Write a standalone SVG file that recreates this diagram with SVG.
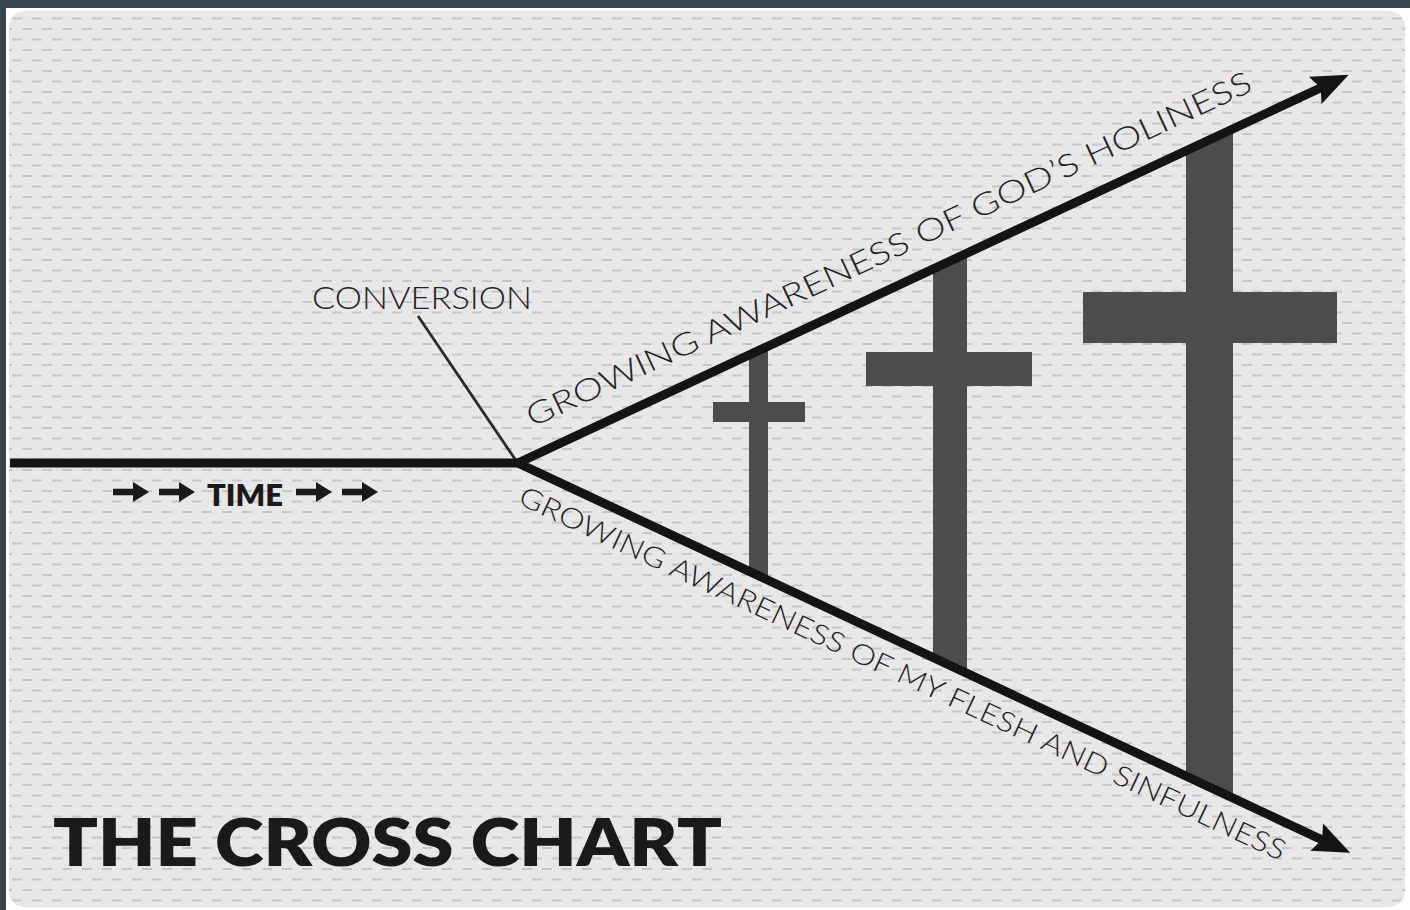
<svg xmlns="http://www.w3.org/2000/svg" width="1410" height="910" viewBox="0 0 1410 910">
  <defs>
    <pattern id="tex" x="0" y="3" width="20" height="21" patternUnits="userSpaceOnUse">
      <rect x="0" y="0" width="20" height="21" fill="#e7e7e7"/>
      <rect x="2" y="4" width="10" height="2" fill="#c6c6c6"/>
      <rect x="12" y="14.5" width="10" height="2" fill="#c6c6c6"/>
      <rect x="-8" y="14.5" width="10" height="2" fill="#c6c6c6"/>
    </pattern>
    <clipPath id="wedge">
      <polygon points="518,463 1400,51 1400,876"/>
    </clipPath>
    <path id="tarrow" d="M0,-3.2 H20 V-10 L36,0 L20,10 V3.2 H0 Z"/>
  </defs>
  <style>
    .cross { fill: #4d4d4d; }
    .ln { stroke: #141414; fill: none; stroke-width: 9; }
    .head { fill: #141414; }
    .light { font-family: Lato, "Noto Sans", "Liberation Sans", sans-serif; font-weight: 300; fill: #222; }
    .bold { font-family: Lato, "Liberation Sans", sans-serif; font-weight: 800; fill: #1a1a1a; }
  </style>

  <!-- frame -->
  <rect x="0" y="0" width="1410" height="910" fill="#ffffff"/>
  <rect x="0" y="0" width="1410" height="8" fill="#36464f"/>
  <rect x="0" y="0" width="6" height="910" fill="#36464f"/>
  <rect x="9" y="11" width="1396" height="896" rx="16" fill="url(#tex)"/>

  <!-- crosses -->
  <g id="crosses" clip-path="url(#wedge)">
    <g id="cross1">
      <rect class="cross" x="749" y="300" width="19" height="320"/>
      <rect class="cross" x="713" y="402" width="92" height="20"/>
    </g>
    <g id="cross2">
      <rect class="cross" x="933" y="200" width="34" height="500"/>
      <rect class="cross" x="866" y="352" width="166" height="34"/>
    </g>
    <g id="cross3">
      <rect class="cross" x="1186" y="80" width="47" height="760"/>
      <rect class="cross" x="1083" y="292" width="254" height="51"/>
    </g>
  </g>

  <!-- connectors -->
  <g id="connectors">
    <line x1="418" y1="316" x2="517" y2="462" stroke="#2a2a2a" stroke-width="2.8"/>
    <line class="ln" x1="10" y1="463" x2="522" y2="463" stroke-width="8"/>
    <polyline class="ln" points="1330,83.5 518,463 1332,844.5" stroke-linejoin="miter"/>
    <g transform="translate(518,463) rotate(-25.05)">
      <polygon class="head" points="917,0 880,-15 886,0 880,15"/>
    </g>
    <g transform="translate(518,463) rotate(25.1)">
      <polygon class="head" points="919,0 882,-15 888,0 882,15"/>
    </g>
  </g>

  <!-- labels -->
  <g id="label-conversion">
    <text class="light" x="312" y="309" font-size="31" textLength="220" lengthAdjust="spacingAndGlyphs">CONVERSION</text>
  </g>
  <g id="label-time">
    <use href="#tarrow" x="113" y="492" fill="#1a1a1a"/>
    <use href="#tarrow" x="159" y="492" fill="#1a1a1a"/>
    <text class="bold" x="207" y="506" font-size="30" textLength="76" lengthAdjust="spacingAndGlyphs">TIME</text>
    <use href="#tarrow" x="296" y="492" fill="#1a1a1a"/>
    <use href="#tarrow" x="342" y="492" fill="#1a1a1a"/>
  </g>
  <g id="label-holiness" transform="translate(518,463) rotate(-25.05)">
    <text class="light" x="28" y="-26" font-size="31" textLength="797" lengthAdjust="spacingAndGlyphs">GROWING AWARENESS OF GOD’S HOLINESS</text>
  </g>
  <g id="label-sinfulness" transform="translate(518,463) rotate(25.1)">
    <text class="light" x="16" y="37" font-size="28" textLength="843" lengthAdjust="spacingAndGlyphs">GROWING AWARENESS OF MY FLESH AND SINFULNESS</text>
  </g>
  <g id="title">
    <text class="bold" x="53" y="866" font-size="66" textLength="669" lengthAdjust="spacingAndGlyphs">THE CROSS CHART</text>
  </g>
</svg>
